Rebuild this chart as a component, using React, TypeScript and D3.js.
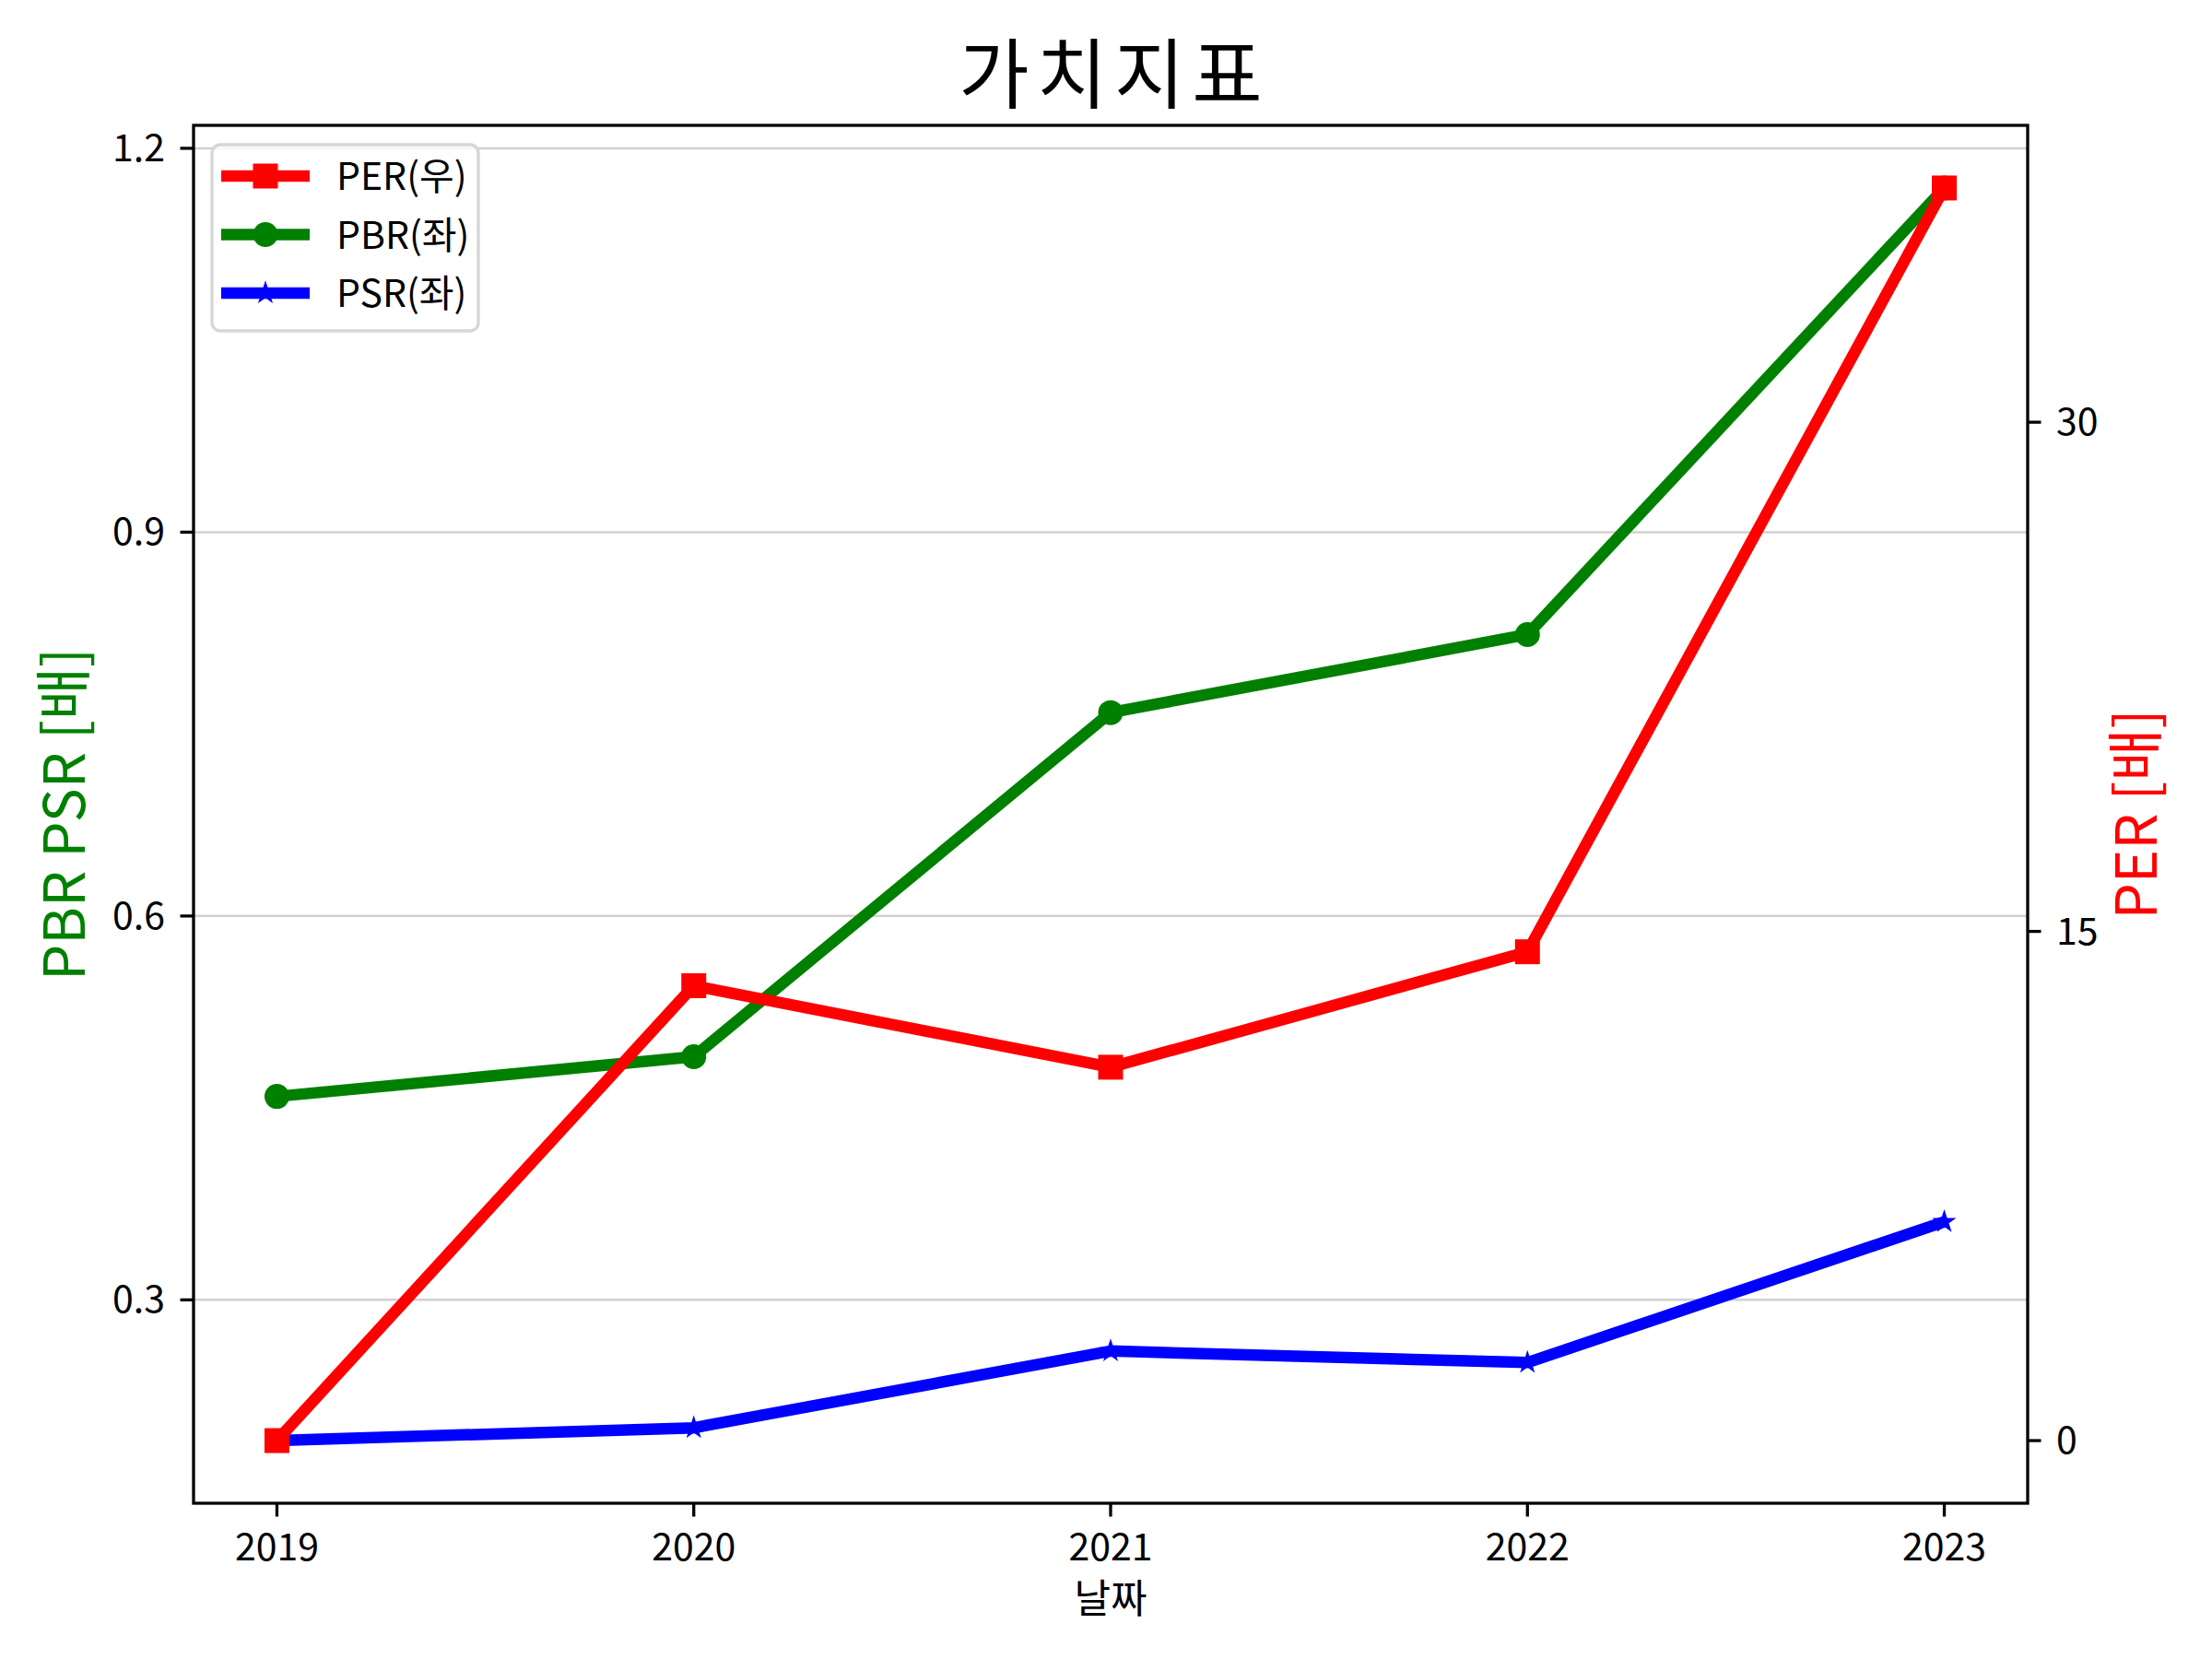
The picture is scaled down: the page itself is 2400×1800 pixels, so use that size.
import * as d3 from 'd3';

// chart data
const years = [2019, 2020, 2021, 2022, 2023];
const perValues = [0, 13.4, 11.0, 14.4, 36.9];
const pbrValues = [0.459, 0.49, 0.759, 0.82, 1.169];
const psrValues = [0.19, 0.2, 0.26, 0.251, 0.361];
const leftTicks = [0.3, 0.6, 0.9, 1.2];
const rightTicks = [0, 15, 30];
const legendItems = [
  { label: 'PER(우)', color: 'red', marker: 'square' },
  { label: 'PBR(좌)', color: 'green', marker: 'circle' },
  { label: 'PSR(좌)', color: 'blue', marker: 'star' },
];

const W = 2400;
const H = 1800;
const margin = { top: 136, right: 200, bottom: 169, left: 210 };
const FONT = '"Noto Sans CJK KR", "Noto Sans", sans-serif';

// matplotlib-style 5% padding around the data range
function padded(vals: number[]): [number, number] {
  const lo = d3.min(vals) as number;
  const hi = d3.max(vals) as number;
  const pad = (hi - lo) * 0.05;
  return [lo - pad, hi + pad];
}

const x = d3
  .scaleLinear()
  .domain(padded(years))
  .range([margin.left, W - margin.right]);

const yLeft = d3
  .scaleLinear()
  .domain(padded([...pbrValues, ...psrValues]))
  .range([H - margin.bottom, margin.top]);

const yRight = d3
  .scaleLinear()
  .domain(padded(perValues))
  .range([H - margin.bottom, margin.top]);

const lineLeft = d3
  .line<number>()
  .x((_, i) => x(years[i]))
  .y((d) => yLeft(d));

const lineRight = d3
  .line<number>()
  .x((_, i) => x(years[i]))
  .y((d) => yRight(d));

const squarePath = d3.symbol(d3.symbolSquare, 27 * 27)()!;
const circlePath = d3.symbol(d3.symbolCircle, Math.PI * 13.5 * 13.5)()!;
const starPath = d3.symbol(d3.symbolStar, 210)()!;

function markerPath(kind: string) {
  if (kind === 'square') return squarePath;
  if (kind === 'circle') return circlePath;
  return starPath;
}

export default function App() {
  const x0 = margin.left;
  const x1 = W - margin.right;
  const y0 = margin.top;
  const y1 = H - margin.bottom;
  const lw = 12.5;

  return (
    <>
      <style>{`body{margin:0}`}</style>
      <svg width={W} height={H} style={{ display: 'block', fontFamily: FONT }}>
        <rect width={W} height={H} fill="white" />

        {/* title */}
        <text x={1209} y={111} textAnchor="middle" fontSize={83} letterSpacing={8} fill="#000">
          가치지표
        </text>

        {/* grid from left axis */}
        {leftTicks.map((t) => (
          <line key={`g${t}`} x1={x0} x2={x1} y1={yLeft(t)} y2={yLeft(t)} stroke="#d0d0d0" strokeWidth={2.5} />
        ))}

        {/* left-axis series */}
        <path d={lineLeft(pbrValues)!} fill="none" stroke="green" strokeWidth={lw} strokeLinejoin="round" />
        {pbrValues.map((v, i) => (
          <path key={`pbr${i}`} d={circlePath} transform={`translate(${x(years[i])},${yLeft(v)})`} fill="green" />
        ))}
        <path d={lineLeft(psrValues)!} fill="none" stroke="blue" strokeWidth={lw} strokeLinejoin="round" />
        {psrValues.map((v, i) => (
          <path key={`psr${i}`} d={starPath} transform={`translate(${x(years[i])},${yLeft(v)})`} fill="blue" />
        ))}

        {/* right-axis series */}
        <path d={lineRight(perValues)!} fill="none" stroke="red" strokeWidth={lw} strokeLinejoin="round" />
        {perValues.map((v, i) => (
          <path key={`per${i}`} d={squarePath} transform={`translate(${x(years[i])},${yRight(v)})`} fill="red" />
        ))}

        {/* spines */}
        <rect x={x0} y={y0} width={x1 - x0} height={y1 - y0} fill="none" stroke="#000" strokeWidth={3.3} />

        {/* x axis */}
        {years.map((yr) => (
          <g key={`x${yr}`}>
            <line x1={x(yr)} x2={x(yr)} y1={y1} y2={y1 + 14.5} stroke="#000" strokeWidth={3.3} />
            <text x={x(yr)} y={1693} textAnchor="middle" fontSize={41} fill="#000">
              {yr}
            </text>
          </g>
        ))}
        <text x={(x0 + x1) / 2} y={1750} textAnchor="middle" fontSize={43} fill="#000">
          날짜
        </text>

        {/* left y axis */}
        {leftTicks.map((t) => (
          <g key={`yl${t}`}>
            <line x1={x0} x2={x0 - 14.5} y1={yLeft(t)} y2={yLeft(t)} stroke="#000" strokeWidth={3.3} />
            <text x={x0 - 31} y={yLeft(t) + 14} textAnchor="end" fontSize={41} fill="#000">
              {t.toFixed(1)}
            </text>
          </g>
        ))}
        <text
          transform={`translate(92,${(y0 + y1) / 2}) rotate(-90)`}
          textAnchor="middle"
          fontSize={62}
          fill="green"
        >
          PBR PSR [배]
        </text>

        {/* right y axis */}
        {rightTicks.map((t) => (
          <g key={`yr${t}`}>
            <line x1={x1} x2={x1 + 14.5} y1={yRight(t)} y2={yRight(t)} stroke="#000" strokeWidth={3.3} />
            <text x={x1 + 31} y={yRight(t) + 14} textAnchor="start" fontSize={41} fill="#000">
              {t}
            </text>
          </g>
        ))}
        <text
          transform={`translate(2340,${(y0 + y1) / 2}) rotate(-90)`}
          textAnchor="middle"
          fontSize={62}
          fill="red"
        >
          PER [배]
        </text>

        {/* legend */}
        <g>
          <rect x={230} y={157} width={289} height={202} rx={9} fill="white" fillOpacity={0.8} stroke="#d6d6d6" strokeWidth={3.3} />
          {legendItems.map((d, i) => {
            const ly = 191 + i * 63.5;
            return (
              <g key={d.label}>
                <line x1={240} x2={336} y1={ly} y2={ly} stroke={d.color} strokeWidth={lw} />
                <path d={markerPath(d.marker)} transform={`translate(288,${ly})`} fill={d.color} />
                <text x={365} y={ly + 15} fontSize={41} fill="#000">
                  {d.label}
                </text>
              </g>
            );
          })}
        </g>
      </svg>
    </>
  );
}
